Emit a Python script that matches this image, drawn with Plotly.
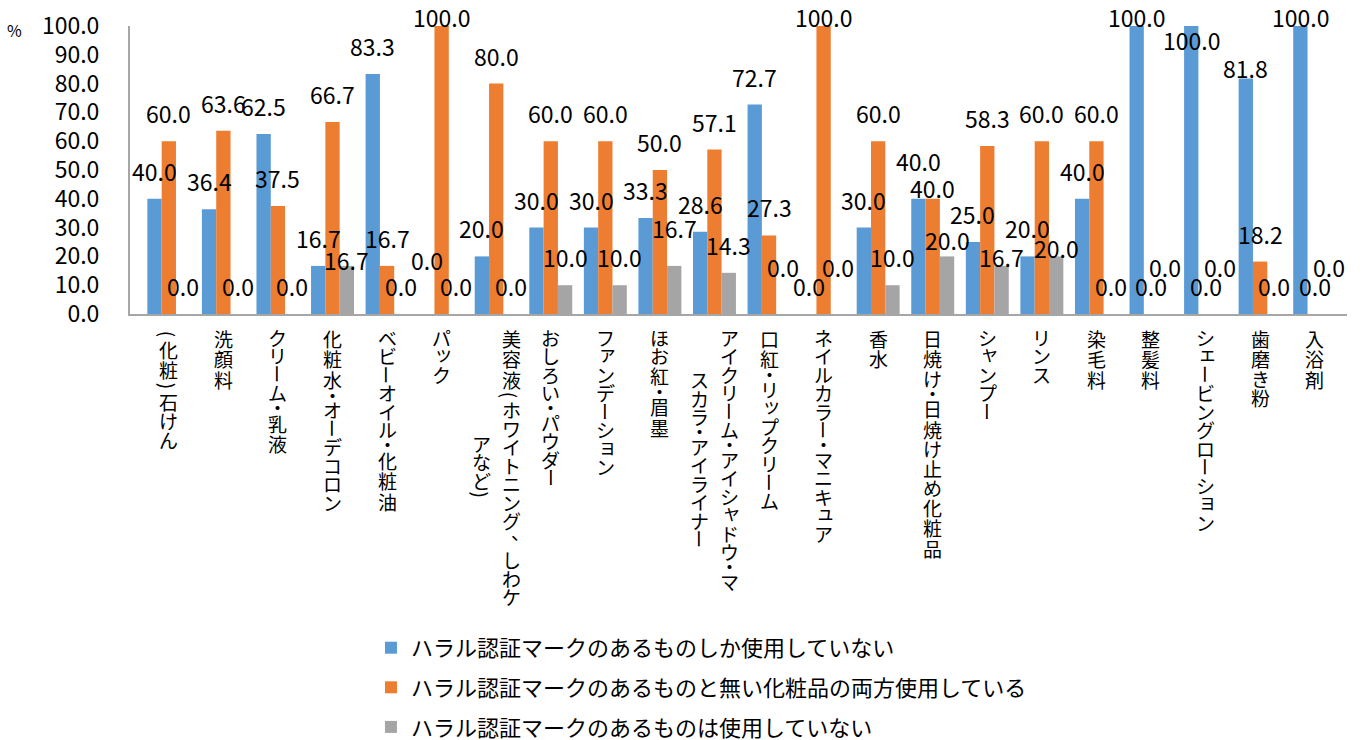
import plotly.graph_objects as go

# ---- data -------------------------------------------------------------
categories = [
    "（化粧）石けん", "洗顔料", "クリーム・乳液", "化粧水・オーデコロン",
    "ベビーオイル・化粧油", "パック", "美容液（ホワイトニング、しわケアなど）",
    "おしろい・パウダー", "ファンデーション", "ほお紅・眉墨",
    "アイクリーム・アイシャドウ・マスカラ・アイライナー", "口紅・リップクリーム",
    "ネイルカラー・マニキュア", "香水", "日焼け・日焼け止め化粧品", "シャンプー",
    "リンス", "染毛料", "整髪料", "シェービングローション", "歯磨き粉", "入浴剤",
]
series_names = [
    "ハラル認証マークのあるものしか使用していない",
    "ハラル認証マークのあるものと無い化粧品の両方使用している",
    "ハラル認証マークのあるものは使用していない",
]
only_halal = [40.0, 36.4, 62.5, 16.7, 83.3, 0.0, 20.0, 30.0, 30.0, 33.3, 28.6,
              72.7, 0.0, 30.0, 40.0, 25.0, 20.0, 40.0, 100.0, 100.0, 81.8, 100.0]
both_kinds = [60.0, 63.6, 37.5, 66.7, 16.7, 100.0, 80.0, 60.0, 60.0, 50.0, 57.1,
              27.3, 100.0, 60.0, 40.0, 58.3, 60.0, 60.0, 0.0, 0.0, 18.2, 0.0]
no_halal = [0.0, 0.0, 0.0, 16.7, 0.0, 0.0, 0.0, 10.0, 10.0, 16.7, 14.3,
            0.0, 0.0, 10.0, 20.0, 16.7, 20.0, 0.0, 0.0, 0.0, 0.0, 0.0]
y_ticks = [0, 10, 20, 30, 40, 50, 60, 70, 80, 90, 100]

# ---- style ------------------------------------------------------------
FONT = "Noto Sans CJK JP"
colors = ["#5B9BD5", "#ED7D31", "#A5A5A5"]
BARGAP = 0.213
LABEL_FS = 23
LABEL_LIFT = 28          # px from bar end to centre of value label
# extra downward offsets (px) for value labels that would collide
label_nudge = {
    (3, 2): 22, (5, 0): -26, (5, 1): 19, (9, 2): -10, (11, 2): -19,
    (12, 1): 19, (12, 2): -19, (14, 0): -10, (14, 1): 17, (14, 2): 12,
    (15, 2): 19, (16, 2): 20, (18, 0): 19, (18, 2): -19, (19, 0): 42,
    (19, 2): -19, (20, 0): 18, (21, 0): 19, (21, 2): -19,
}

fig = go.Figure()
all_series = [only_halal, both_kinds, no_halal]
for j, (name, vals) in enumerate(zip(series_names, all_series)):
    fig.add_trace(go.Bar(
        x=categories, y=vals, name=name, legendgroup=f"g{j}",
        marker=dict(color=colors[j], line=dict(width=0)),
    ))

annotations = []

# value labels above each bar
w = (1 - BARGAP) / 3
for j, vals in enumerate(all_series):
    for i, v in enumerate(vals):
        annotations.append(dict(
            x=i + (j - 1) * w, xref="x", y=v, yref="y",
            text=f"{v:.1f}", showarrow=False,
            xanchor="center", yanchor="middle",
            yshift=LABEL_LIFT - label_nudge.get((i, j), 0),
            font=dict(family=FONT, size=LABEL_FS, color="#000000"),
        ))

# vertical (tategaki) category labels, one glyph per annotation
CAT_FS = 19
KANJI_ADV = 20.5
KANA_ADV = 18.5
HALF_ADV = 11
COL_GAP = 30
MAX_CHARS = 15
TOP = 14
HALF = set("（）()・")
ROTATE = {"ー": "ー", "（": "(", "）": ")", "(": "(", ")": ")"}
SMALL = set("ァィゥェォャュョッぁぃぅぇぉゃゅょっ")


def advance(ch):
    if ch in HALF:
        return HALF_ADV
    if "\u3040" <= ch <= "\u30ff":
        return KANA_ADV
    return KANJI_ADV


for i, name in enumerate(categories):
    cols = [name[k:k + MAX_CHARS] for k in range(0, len(name), MAX_CHARS)]
    heights = [sum(advance(c) for c in col) for col in cols]
    H = max(heights)
    n = len(cols)
    for c, col in enumerate(cols):
        xs = (n - 1) / 2 * COL_GAP - c * COL_GAP
        pos = TOP + (H - heights[c]) / 2
        for ch in col:
            a = advance(ch)
            yc = pos + a / 2
            dx, dy = 0, 0
            if ch in SMALL:
                dx, dy = 2, 3
            elif ch == "、":
                dx, dy = 9, 9
            annotations.append(dict(
                x=i, xref="x", y=0, yref="paper",
                text=ROTATE.get(ch, ch), showarrow=False,
                xanchor="center", yanchor="middle",
                xshift=xs + dx, yshift=-yc + dy,
                textangle=90 if ch in ROTATE else 0,
                font=dict(family=FONT, size=CAT_FS, color="#000000"),
            ))
            pos += a

# unit marker
annotations.append(dict(
    x=-0.095, xref="paper", y=0.986, yref="paper", text="%", showarrow=False,
    xanchor="center", yanchor="middle",
    font=dict(family=FONT, size=16, color="#000000"),
))

fig.update_layout(
    width=1366, height=740,
    margin=dict(l=130, r=19, t=26, b=426, autoexpand=False),
    paper_bgcolor="white", plot_bgcolor="white",
    barmode="group", bargap=BARGAP, bargroupgap=0,
    font=dict(family=FONT, size=22, color="#000000"),
    annotations=annotations,
    showlegend=True,
    legend=dict(
        orientation="v", x=0.198, xanchor="left", y=-1.0865, yanchor="top",
        font=dict(family=FONT, size=22, color="#000000"),
        tracegroupgap=8, itemwidth=30, bgcolor="rgba(0,0,0,0)",
    ),
    xaxis=dict(
        type="category", showticklabels=False, ticks="", showgrid=False,
        showline=True, linecolor="#A6A6A6", linewidth=2, zeroline=False,
    ),
    yaxis=dict(
        range=[0, 100], tickvals=y_ticks, tickformat=".1f", ticks="",
        showgrid=False, showline=True, linecolor="#A6A6A6", linewidth=2,
        zeroline=False, ticklabelstandoff=24,
        tickfont=dict(family=FONT, size=23, color="#000000"),
    ),
)

fig.write_html("out.html")
